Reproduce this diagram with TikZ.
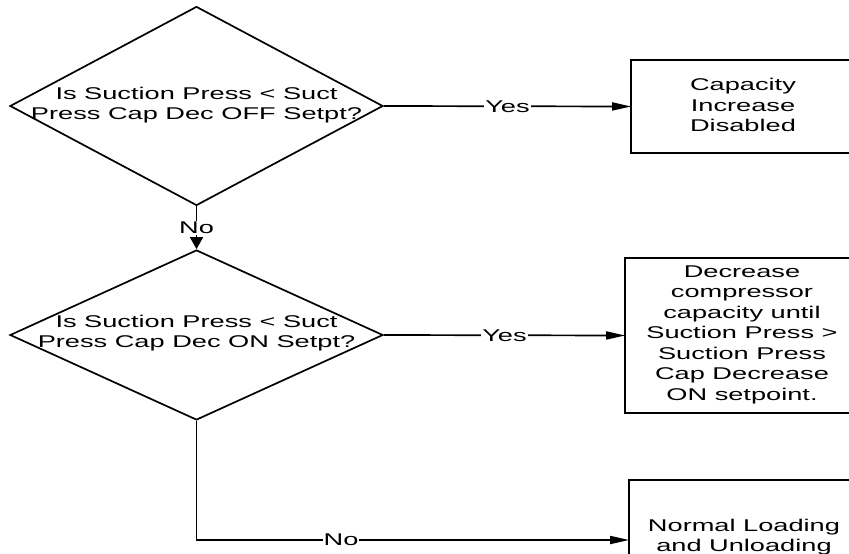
\documentclass[tikz,border=0pt]{standalone}
\usepackage{fontspec}
\setmainfont{Liberation Sans}[FakeStretch=1.6]
\usetikzlibrary{shapes.geometric,arrows.meta}
\begin{document}
\begin{tikzpicture}[x=1pt,y=-1pt,
  line width=1.7pt,
  decision/.style={diamond, draw, inner sep=0pt, minimum width=373pt},
  procbox/.style={rectangle, inner sep=0pt},
  boxline/.style={line width=2pt},
  txt/.style={font=\fontsize{17}{20.5}\selectfont, align=center, inner sep=0pt},
  lbl/.style={font=\fontsize{17}{20.5}\selectfont, fill=white, inner sep=1pt},
  harrow/.style={-{Triangle[length=19pt,width=8pt]}},
  varrow/.style={-{Triangle[length=12pt,width=13pt]}}]
\useasboundingbox (0,0) rectangle (849,554);
\clip (0,0) rectangle (849,554);
\fill[white] (0,0) rectangle (849,554);
% decisions
\node[decision, minimum height=199pt] (d1) at (196.5,106) {};
\node[txt] (t1) at (196.5,105) {Is Suction Press < Suct\\Press Cap Dec OFF Setpt?};
\node[decision, minimum height=170pt] (d2) at (196.5,335) {};
\node[txt] (t2) at (196.5,333) {Is Suction Press < Suct\\Press Cap Dec ON Setpt?};
% boxes (right edges lie beyond the picture)
\node[procbox, minimum width=248pt, minimum height=91pt] (b1) at (756,106.5) {};
\node[txt] (tb1) at (743,105) {Capacity\\Increase\\Disabled};
\node[procbox, minimum width=254pt, minimum height=153pt] (b2) at (753,335.5) {};
\node[txt] (tb2) at (742,334.5) {Decrease\\compressor\\capacity until\\Suction Press >\\Suction Press\\Cap Decrease\\ON setpoint.};
\node[procbox, minimum width=250pt, minimum height=118pt] (b3) at (755,540) {};
\node[txt] (tb3) at (744,537) {Normal Loading\\and Unloading};
\foreach \b in {b1,b2,b3}
  \draw[boxline] (\b.north east) -- (\b.north west) -- (\b.south west) -- (\b.south east);
% connectors
\draw[harrow] (d1.east) -- node[lbl] {Yes} (b1.west);
\draw[harrow] (d2.east) -- node[lbl] {Yes} (b2.west);
\draw[varrow] (d1.south) -- node[lbl] {No} (d2.north);
\draw[harrow] (d2.south) |- node[lbl, pos=0.667] {No} (b3.west);
\end{tikzpicture}
\end{document}
